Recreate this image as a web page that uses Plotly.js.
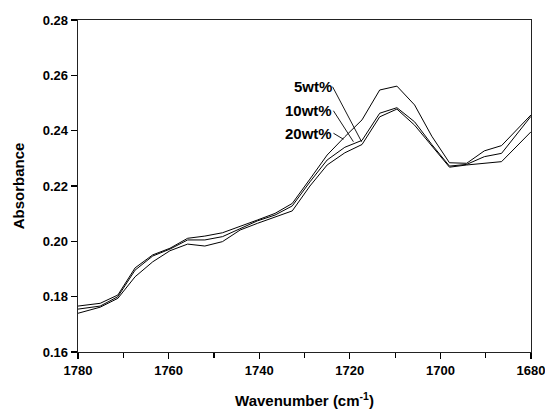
<!DOCTYPE html>
<html>
<head>
<meta charset="utf-8">
<script src="https://cdn.plot.ly/plotly-3.0.1.min.js"></script>
<style>
html,body{margin:0;padding:0;background:#fff;}
#chart{width:545px;height:414px;}
</style>
</head>
<body>
<div id="chart"></div>
<script>
// Wavenumber (cm^-1)
const wavenumber = [1780, 1775.1, 1771.2, 1767.4, 1763.5, 1759.7, 1755.8, 1752.0, 1748.1, 1744.2,
  1740.4, 1736.5, 1732.7, 1728.8, 1725.0, 1721.1, 1717.3, 1713.4, 1709.6, 1705.7,
  1701.9, 1698.0, 1694.2, 1690.3, 1686.5, 1680];

const abs5wt = [0.1766, 0.1776, 0.1806, 0.1904, 0.1951, 0.1975, 0.2011, 0.2019, 0.2031, 0.2053,
  0.2077, 0.2101, 0.2137, 0.2225, 0.2312, 0.2378, 0.2439, 0.2547, 0.2561, 0.2493,
  0.2380, 0.2284, 0.2282, 0.2327, 0.2346, 0.2457];

const abs10wt = [0.1755, 0.1766, 0.1800, 0.1896, 0.1947, 0.1972, 0.2005, 0.2005, 0.2017, 0.2047,
  0.2074, 0.2095, 0.2128, 0.2215, 0.2294, 0.2340, 0.2365, 0.2463, 0.2483, 0.2432,
  0.2350, 0.2272, 0.2278, 0.2306, 0.2318, 0.2452];

const abs20wt = [0.1740, 0.1762, 0.1794, 0.1872, 0.1926, 0.1966, 0.1990, 0.1983, 0.1999, 0.2041,
  0.2065, 0.2087, 0.2110, 0.2200, 0.2276, 0.2320, 0.2350, 0.2450, 0.2478, 0.2420,
  0.2345, 0.2268, 0.2276, 0.2282, 0.2288, 0.2396];

const seriesNames = ["5wt%", "10wt%", "20wt%"];
// where each label's leader line touches the curves
const labelPointX = [1717.4, 1719.2, 1721.4];
const labelPointY = [0.2360, 0.2360, 0.2369];

const xTicks = [1780, 1760, 1740, 1720, 1700, 1680];
const yTicks = [0.16, 0.18, 0.20, 0.22, 0.24, 0.26, 0.28];

const lineStyle = {color: '#000', width: 1};
const traces = [abs5wt, abs10wt, abs20wt].map((ys, i) => ({
  type: 'scatter', mode: 'lines', x: wavenumber, y: ys, name: seriesNames[i],
  line: lineStyle, cliponaxis: true, hoverinfo: 'skip'
}));

const labelOffsets = [[-29, -55], [-20, -31], [-10, -6]];
const annotations = seriesNames.map((t, i) => ({
  x: labelPointX[i], y: labelPointY[i], xref: 'x', yref: 'y',
  text: '<b>' + t + '</b>', showarrow: true, arrowhead: 0, arrowwidth: 0.9, arrowcolor: '#000',
  ax: labelOffsets[i][0], ay: labelOffsets[i][1], xanchor: 'right', yanchor: 'middle',
  borderpad: 0, standoff: 0, startstandoff: 0,
  font: {family: 'Liberation Sans, Arial, sans-serif', size: 15, color: '#000'}
}));

const axisFont = {family: 'Liberation Sans, Arial, sans-serif', size: 13, color: '#000'};

const layout = {
  width: 545, height: 414,
  margin: {l: 78, r: 14, t: 20, b: 62},
  paper_bgcolor: '#fff', plot_bgcolor: '#fff',
  showlegend: false,
  xaxis: {
    range: [1780, 1680], tickvals: xTicks, ticktext: xTicks.map(v => '<b>' + v + '</b>'),
    ticklabeloverflow: 'allow',
    ticks: 'outside', ticklen: 6, tickwidth: 1.2, tickcolor: '#000',
    minor: {dtick: 10, ticks: 'outside', ticklen: 5, tickwidth: 1.2, tickcolor: '#000'},
    showline: true, linecolor: '#222', linewidth: 1.4, mirror: true,
    showgrid: false, zeroline: false, tickfont: axisFont, automargin: false,
    title: {text: '<b>Wavenumber (cm<sup>-1</sup>)</b>', standoff: 18,
      font: {family: 'Liberation Sans, Arial, sans-serif', size: 15, color: '#000'}}
  },
  yaxis: {
    range: [0.16, 0.28], tickvals: yTicks, ticktext: yTicks.map(v => '<b>' + v.toFixed(2) + '</b>'),
    ticklabeloverflow: 'allow',
    ticks: 'outside', ticklen: 6, tickwidth: 1.2, tickcolor: '#000',
    showline: true, linecolor: '#222', linewidth: 1.4, mirror: true,
    showgrid: false, zeroline: false, tickfont: axisFont, automargin: false,
    title: {text: '<b>Absorbance</b>', standoff: 14,
      font: {family: 'Liberation Sans, Arial, sans-serif', size: 15, color: '#000'}}
  },
  annotations: annotations
};

Plotly.newPlot('chart', traces, layout, {displayModeBar: false, staticPlot: true});
</script>
</body>
</html>
